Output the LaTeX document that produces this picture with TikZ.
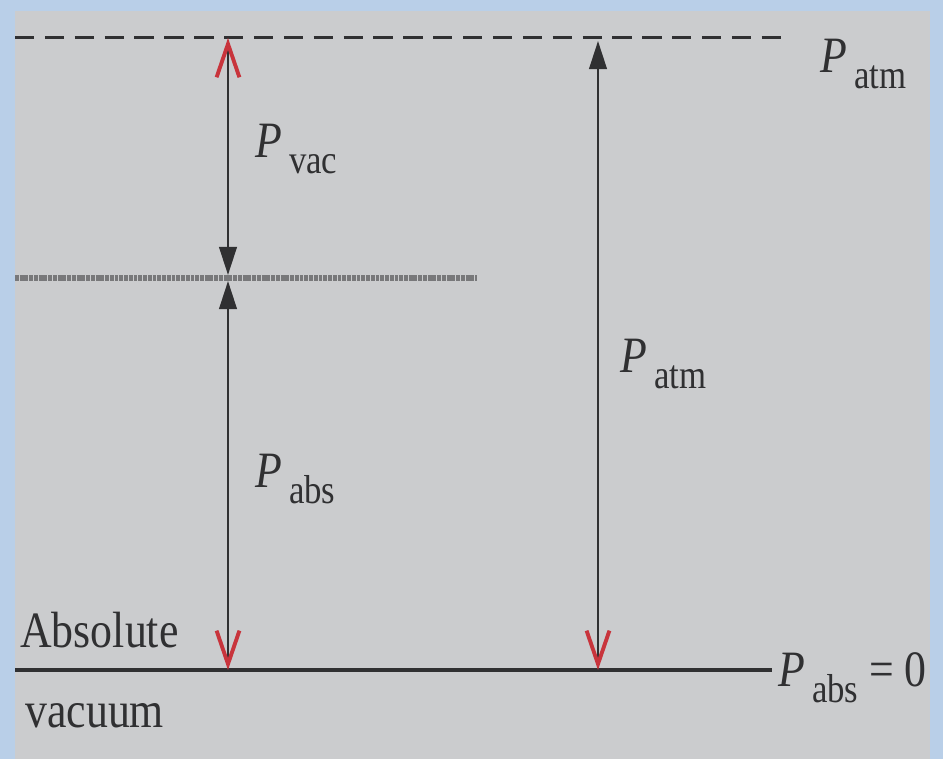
\documentclass[tikz,border=0pt]{standalone}
\usepackage{fontspec}
\setmainfont{Liberation Serif}[FakeStretch=0.86]
\usepackage{tikz}
\usetikzlibrary{arrows.meta}

\definecolor{frameblue}{RGB}{185,207,232}
\definecolor{paper}{RGB}{203,204,206}
\definecolor{ink}{RGB}{48,48,50}
\definecolor{hatchgray}{RGB}{120,120,122}
\definecolor{pen}{RGB}{200,52,60}

\newcommand{\press}[1]{{\itshape P}\hspace{4pt}\raisebox{-9pt}{\fontsize{23}{25}\selectfont #1}}

\tikzset{
  RedV/.tip={Straight Barb[color=pen, length=19pt, width=13pt, line width=2.2pt]},
  DarkTri/.tip={Triangle[color=ink, length=16pt, width=10pt]},
  dim/.style={draw=ink, line width=1.4pt},
  lbl/.style={font=\fontsize{29}{32}\selectfont, inner sep=0pt, anchor=base west, text=ink}
}

\begin{document}
\begin{tikzpicture}[x=0.02cm, y=0.02cm]
                % frame and paper
                \fill[frameblue] (0,0) rectangle (943,759);
                \fill[paper] (15,0) rectangle (930,748);
                \useasboundingbox (0,0) rectangle (943,759);
                % levels
                \coordinate (AtmL) at (15,721);
                \coordinate (AtmR) at (785,721);
                \coordinate (GageL) at (15,481);
                \coordinate (GageR) at (477,481);
                \coordinate (VacL) at (15,89);
                \coordinate (VacR) at (772,89);
                \draw[ink, line width=1.7pt, dash pattern=on 11pt off 6pt] (AtmL) -- (AtmR);
                \draw[hatchgray, line width=3pt, dash pattern=on 2.2pt off 0.5pt] (GageL) -- (GageR);
                \draw[ink, line width=2.4pt] (VacL) -- (VacR);
                % arrows
                \coordinate (VacTop) at (228,721);
                \coordinate (VacBot) at (228,484);
                \coordinate (AbsTop) at (228,478);
                \coordinate (AbsBot) at (228,89);
                \coordinate (AtmTop) at (598,718);
                \coordinate (AtmBot) at (598,89);
                \draw[dim, arrows={RedV-DarkTri}] (VacTop) -- (VacBot);
                \draw[dim, arrows={DarkTri-RedV}] (AbsTop) -- (AbsBot);
                \draw[dim, arrows={DarkTri-RedV}] (AtmTop) -- (AtmBot);
                % labels
                \node[lbl] (patmtop) at (820,686) {\press{atm}};
                \node[lbl] (pvac) at (255,601) {\press{vac}};
                \node[lbl] (pabs) at (255,271) {\press{abs}};
                \node[lbl] (patm) at (620,386) {\press{atm}};
                \node[lbl] (pzero) at (778,72) {\press{abs}\hspace{6pt}= 0};
                \node[lbl] (absolute) at (20,111) {Absolute};
                \node[lbl] (vacuum) at (25,31) {vacuum};
            \end{tikzpicture}
\end{document}
